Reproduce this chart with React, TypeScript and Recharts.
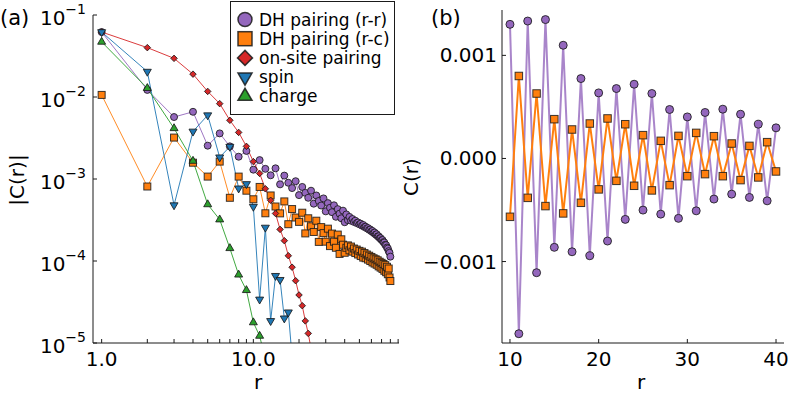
import React from "react";
import { LineChart, Line, XAxis, YAxis } from "recharts";

const FONT = "'DejaVu Sans', sans-serif";
const AXIS = "#1a1a1a";
const EDGE = "#1a1a1a";
const PURPLE = "#9467bd";
const ORANGE = "#ff7f0e";
const RED = "#d62728";
const BLUE = "#1f77b4";
const GREEN = "#2ca02c";

// (a) |C(r)| on log-log axes
const rAll = [
  1, 2, 3, 4, 5, 6, 7, 8, 9, 10, 11, 12, 13, 14, 15, 16, 17, 18, 19, 20,
  21, 22, 23, 24, 25, 26, 27, 28, 29, 30, 31, 32, 33, 34, 35, 36, 37, 38, 39, 40,
  41, 42, 43, 44, 45, 46, 47, 48, 49, 50, 51, 52, 53, 54, 55, 56, 57, 58, 59, 60,
  61, 62, 63, 64, 65, 66, 67, 68, 69, 70, 71, 72, 73, 74, 75, 76, 77, 78, 79, 80,
];
const absRR = [
  0.062, 0.0122, 0.0057, 0.0066, 0.00255, 0.0036, 0.0025, 0.00187, 0.0022, 0.0013,
  0.0017, 0.00133, 0.00111, 0.00135, 0.00086, 0.0011, 0.0009, 0.000775, 0.00094, 0.000636,
  0.0008, 0.000678, 0.00059, 0.00072, 0.0005, 0.00063, 0.00054, 0.000475, 0.00058, 0.000403,
  0.000508, 0.000446, 0.000394, 0.000478, 0.000346, 0.000429, 0.000378, 0.000332, 0.000411, 0.000297,
  3.7e-4, 3.15e-4, 3.45e-4, 3.1e-4, 3.25e-4, 3.0e-4, 3.1e-4, 2.9e-4, 2.95e-4, 2.8e-4,
  2.85e-4, 2.7e-4, 2.75e-4, 2.6e-4, 2.62e-4, 2.5e-4, 2.52e-4, 2.4e-4, 2.42e-4, 2.3e-4,
  2.32e-4, 2.2e-4, 2.22e-4, 2.1e-4, 2.12e-4, 2.0e-4, 2.0e-4, 1.9e-4, 1.9e-4, 1.8e-4,
  1.8e-4, 1.7e-4, 1.68e-4, 1.58e-4, 1.56e-4, 1.46e-4, 1.42e-4, 1.32e-4, 1.26e-4, 1.13e-4,
];
const absRC = [
  0.0106, 0.00081, 0.0032, 0.00158, 0.00107, 0.00163, 0.00059, 0.00107, 0.00072, 0.000566,
  0.0008, 0.000382, 0.00063, 0.000462, 0.000381, 0.000533, 0.000281, 0.00043, 0.000339, 0.0003,
  0.000388, 0.000217, 0.000332, 0.000265, 0.000226, 0.00031, 0.000171, 0.000259, 0.000219, 0.000172,
  0.000248, 0.000152, 0.000216, 0.000172, 0.000145, 0.00021, 0.000122, 0.000184, 0.000158, 0.000126,
  1.45e-4, 1.55e-4, 1.35e-4, 1.5e-4, 1.3e-4, 1.42e-4, 1.25e-4, 1.38e-4, 1.2e-4, 1.33e-4,
  1.15e-4, 1.3e-4, 1.1e-4, 1.25e-4, 1.08e-4, 1.2e-4, 1.04e-4, 1.16e-4, 1.0e-4, 1.12e-4,
  9.6e-5, 1.08e-4, 9.3e-5, 1.05e-4, 9.0e-5, 1.02e-4, 8.6e-5, 9.8e-5, 8.3e-5, 9.5e-5,
  8.0e-5, 9.2e-5, 7.6e-5, 8.9e-5, 7.3e-5, 8.5e-5, 6.9e-5, 8.1e-5, 6.3e-5, 5.7e-5,
];
const rOnsite = [1, 2, 3, 4, 5, 6, 7, 8, 9, 10, 11, 12, 13, 14, 15, 16, 17, 18, 19, 20, 21, 22, 23, 24];
const onsite = [
  0.062, 0.04, 0.0296, 0.019, 0.0117, 0.0083, 0.0052, 0.0037, 0.0025, 0.00163,
  0.00117, 0.00076, 0.00055, 0.00038, 0.000243, 0.000177, 0.000116, 0.000084, 0.0000575, 0.0000385,
  0.0000285, 0.0000186, 0.0000131, 0.0000085,
];
const rSpin = [1, 2, 3, 4, 5, 6, 7, 8, 9, 10, 11, 12, 13, 14, 15, 16, 17, 18];
const spin = [
  0.062, 0.0204, 0.00048, 0.0038, 0.006, 0.00184, 0.00248, 0.00077, 0.00087, 0.00046,
  0.000034, 0.000256, 0.0000186, 0.000066, 0.000059, 0.00002, 0.0000237, 0.0000068,
];
const rCharge = [1, 2, 3, 4, 5, 6, 7, 8, 9, 10, 11, 12];
const charge = [
  0.047, 0.0128, 0.00415, 0.00166, 0.00049, 0.00032, 0.000143, 0.000068, 0.000044, 0.0000178,
  0.0000122, 0.0000063,
];
const xTicksLeft = [1, 2, 3, 4, 5, 6, 7, 8, 9, 10, 20, 30, 40, 50, 60, 70, 80, 90];
const xLabelsLeft = [1, 10];
const yTicksLeft = [1e-5, 1e-4, 1e-3, 1e-2, 1e-1];

// (b) signed C(r) for the two d-wave channels
const rRight = [
  10, 11, 12, 13, 14, 15, 16, 17, 18, 19, 20, 21, 22, 23, 24, 25,
  26, 27, 28, 29, 30, 31, 32, 33, 34, 35, 36, 37, 38, 39, 40,
];
const cRR = [
  0.001301, -0.0017, 0.001333, -0.001108, 0.001347, -0.000862, 0.001098, -0.000905, 0.000775, -0.000944,
  0.000636, -0.000801, 0.000678, -0.000591, 0.00072, -0.000501, 0.00063, -0.00054, 0.000475, -0.000581,
  0.000403, -0.000508, 0.000446, -0.000394, 0.000478, -0.000346, 0.000429, -0.000378, 0.000332, -0.000411,
  0.000297,
];
const cRC = [
  -0.000566, 0.0008, -0.000382, 0.00063, -0.000462, 0.000381, -0.000533, 0.000281, -0.00043, 0.000339,
  -0.0003, 0.000388, -0.000217, 0.000332, -0.000265, 0.000226, -0.00031, 0.000171, -0.000259, 0.000219,
  -0.000172, 0.000248, -0.000152, 0.000216, -0.000172, 0.000145, -0.00021, 0.000122, -0.000184, 0.000158,
  -0.000126,
];
const xTicksRight = [10, 20, 30, 40];
const yTicksRight = [-0.001, 0, 0.001];

const legendItems = [
  { name: "DH pairing (r-r)", shape: "circle", color: PURPLE },
  { name: "DH pairing (r-c)", shape: "square", color: ORANGE },
  { name: "on-site pairing", shape: "diamond", color: RED },
  { name: "spin", shape: "down", color: BLUE },
  { name: "charge", shape: "up", color: GREEN },
];

const pts = (xs: number[], ys: number[]) => xs.map((r, i) => ({ r, v: ys[i] }));

// left plot box: x 93..399, y 15..343 ; right chart sits at x=420, its plot box (local): x 82..364, y 10..343
const L_BOTTOM = 343;
const R_BOTTOM = 343;
const R_LEFT = 420;
const R_AXIS_X = 82;

function Marker({ shape, x, y, size, fill, sw = 1 }: any) {
  const h = size / 2;
  const st = { fill, stroke: EDGE, strokeWidth: sw, strokeOpacity: 0.85 };
  if (shape === "circle") return <circle cx={x} cy={y} r={h} {...st} />;
  if (shape === "square") return <rect x={x - h} y={y - h} width={size} height={size} {...st} />;
  if (shape === "diamond")
    return <polygon points={`${x},${y - h} ${x + h},${y} ${x},${y + h} ${x - h},${y}`} {...st} />;
  if (shape === "down")
    return (
      <polygon
        points={`${x - h},${y - 0.58 * h} ${x + h},${y - 0.58 * h} ${x},${y + 1.15 * h}`}
        {...st}
      />
    );
  return (
    <polygon
      points={`${x - h},${y + 0.58 * h} ${x + h},${y + 0.58 * h} ${x},${y - 1.15 * h}`}
      {...st}
    />
  );
}

const dotFor = (shape: string, fill: string, size: number, bottom: number) => (p: any) => {
  const k = `${shape}-${p.index}`;
  if (p.cx == null || p.cy == null || !isFinite(p.cy) || p.cy > bottom + 0.5) return <g key={k} />;
  return <Marker key={k} shape={shape} x={p.cx} y={p.cy} size={size} fill={fill} />;
};

const LeftXTick = (p: any) => {
  const v = p.payload.value;
  const x = p.x;
  return (
    <g>
      <line x1={x} x2={x} y1={L_BOTTOM} y2={L_BOTTOM - 4} stroke={AXIS} />
      {xLabelsLeft.includes(v) && (
        <text x={x} y={366} textAnchor="middle" fontSize={20} fontFamily={FONT} fill="#000">
          {v.toFixed(1)}
        </text>
      )}
    </g>
  );
};

const LeftYTick = (p: any) => {
  const v = p.payload.value;
  const y = p.y;
  const e = Math.round(Math.log10(v));
  return (
    <g>
      <line x1={93} x2={97} y1={y} y2={y} stroke={AXIS} />
      <text x={86} y={y + 10} textAnchor="end" fontSize={20} fontFamily={FONT} fill="#000">
        <tspan>10</tspan>
        <tspan dy={-11} fontSize={14}>{"\u2212" + Math.abs(e)}</tspan>
      </text>
    </g>
  );
};

const RightXTick = (p: any) => {
  const x = p.x;
  return (
    <g>
      <line x1={x} x2={x} y1={R_BOTTOM} y2={R_BOTTOM - 4} stroke={AXIS} />
      <text x={x} y={366} textAnchor="middle" fontSize={20} fontFamily={FONT} fill="#000">
        {p.payload.value}
      </text>
    </g>
  );
};

const RightYTick = (p: any) => {
  const v = p.payload.value;
  const y = p.y;
  const s = (v < 0 ? "\u2212" : "") + Math.abs(v).toFixed(3);
  return (
    <g>
      <line x1={R_AXIS_X} x2={R_AXIS_X + 4} y1={y} y2={y} stroke={AXIS} />
      <text x={R_AXIS_X - 5} y={y + 7} textAnchor="end" fontSize={20} fontFamily={FONT} fill="#000">
        {s}
      </text>
    </g>
  );
};

function LeftPanel() {
  const common = { type: "linear" as const, dataKey: "v", isAnimationActive: false, strokeWidth: 1, strokeOpacity: 0.9 };
  return (
    <LineChart width={420} height={393} margin={{ top: 15, right: 21, bottom: 0, left: 0 }}>
      <XAxis
        dataKey="r"
        type="number"
        scale="log"
        domain={[0.877, 91.2]}
        allowDataOverflow
        ticks={xTicksLeft}
        interval={0}
        tick={LeftXTick}
        tickLine={false}
        axisLine={{ stroke: AXIS }}
        height={50}
      />
      <YAxis
        type="number"
        scale="log"
        domain={[1e-5, 0.1]}
        allowDataOverflow
        ticks={yTicksLeft}
        interval={0}
        tick={LeftYTick}
        tickLine={false}
        axisLine={{ stroke: AXIS }}
        width={93}
      />
      <Line {...common} data={pts(rAll, absRR)} stroke={PURPLE} dot={dotFor("circle", PURPLE, 7, L_BOTTOM)} />
      <Line {...common} data={pts(rAll, absRC)} stroke={ORANGE} dot={dotFor("square", ORANGE, 7, L_BOTTOM)} />
      <Line {...common} data={pts(rOnsite, onsite)} stroke={RED} dot={dotFor("diamond", RED, 6.5, L_BOTTOM)} />
      <Line {...common} data={pts(rSpin, spin)} stroke={BLUE} dot={dotFor("down", BLUE, 8, L_BOTTOM)} />
      <Line {...common} data={pts(rCharge, charge)} stroke={GREEN} dot={dotFor("up", GREEN, 8, L_BOTTOM)} />
    </LineChart>
  );
}

function RightPanel() {
  const common = { type: "linear" as const, dataKey: "v", isAnimationActive: false, strokeWidth: 2 };
  return (
    <LineChart width={789 - R_LEFT} height={393} margin={{ top: 10, right: 5, bottom: 0, left: 0 }}>
      <XAxis
        dataKey="r"
        type="number"
        domain={[9.1, 40.9]}
        allowDataOverflow
        ticks={xTicksRight}
        interval={0}
        tick={RightXTick}
        tickLine={false}
        axisLine={{ stroke: AXIS }}
        height={50}
      />
      <YAxis
        type="number"
        domain={[-0.00179, 0.00144]}
        allowDataOverflow
        ticks={yTicksRight}
        interval={0}
        tick={RightYTick}
        tickLine={false}
        axisLine={{ stroke: AXIS }}
        width={R_AXIS_X}
      />
      <Line {...common} data={pts(rRight, cRR)} stroke={PURPLE} strokeOpacity={0.8} dot={dotFor("circle", PURPLE, 8, R_BOTTOM)} />
      <Line {...common} data={pts(rRight, cRC)} stroke={ORANGE} dot={dotFor("square", ORANGE, 7.5, R_BOTTOM)} />
    </LineChart>
  );
}

function Overlay() {
  return (
    <svg width={789} height={393} style={{ position: "absolute", left: 0, top: 0, pointerEvents: "none" }}>
      <g fontFamily={FONT} fill="#000">
        <text x={0} y={25} fontSize={21}>(a)</text>
        <text x={431} y={25} fontSize={21}>(b)</text>
        <text x={17} y={180} fontSize={20} textAnchor="middle" dominantBaseline="central" transform="rotate(-90 17 180)">
          |C(r)|
        </text>
        <text x={411} y={177} fontSize={20} textAnchor="middle" dominantBaseline="central" transform="rotate(-90 411 177)">
          C(r)
        </text>
        <text x={258} y={389} fontSize={20} textAnchor="middle">r</text>
        <text x={641} y={389} fontSize={20} textAnchor="middle">r</text>
      </g>
      <g>
        <rect x={230.5} y={1.5} width={164} height={113} fill="#fff" stroke={AXIS} strokeWidth={1} />
        {legendItems.map((it, i) => {
          const cy = 19.5 + i * 19.2;
          return (
            <g key={it.name}>
              <Marker shape={it.shape} x={245} y={cy} size={it.shape === "diamond" ? 15 : 14} fill={it.color} sw={1.5} />
              <text x={259} y={cy + 6} fontSize={17} fontFamily={FONT} fill="#000">
                {it.name}
              </text>
            </g>
          );
        })}
      </g>
    </svg>
  );
}

export default function App() {
  return (
    <div style={{ position: "fixed", left: 0, top: 0, width: 789, height: 393, background: "#fff" }}>
      <div style={{ position: "absolute", left: 0, top: 0 }}>
        <LeftPanel />
      </div>
      <div style={{ position: "absolute", left: R_LEFT, top: 0 }}>
        <RightPanel />
      </div>
      <Overlay />
    </div>
  );
}
